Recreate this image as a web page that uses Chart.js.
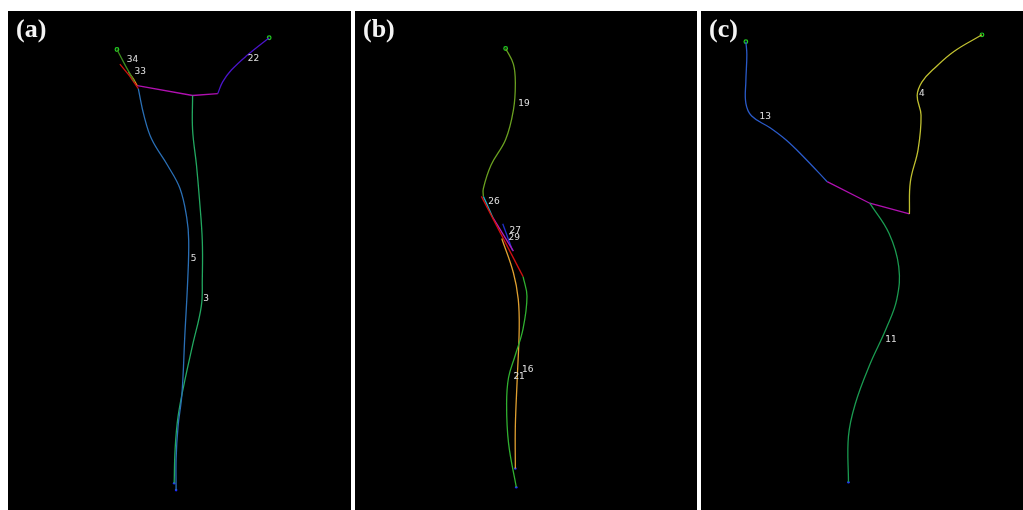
<!DOCTYPE html>
<html>
<head>
<meta charset="utf-8">
<script src="https://cdn.jsdelivr.net/npm/chart.js@4/dist/chart.umd.min.js"></script>
<style>
  body { margin: 0; background: #fff; width: 1023px; height: 510px; position: relative; overflow: hidden; }
  .panel { position: absolute; top: 11px; height: 499px; background: #000; }
  .tag { position: absolute; left: 8px; top: 3px; color: #f4f4f4; font: bold 26px "Liberation Serif", "DejaVu Serif", serif; }
</style>
</head>
<body>
<div class="panel" id="pa" style="left:8px;width:343px"><canvas id="ca"></canvas><div class="tag">(a)</div></div>
<div class="panel" id="pb" style="left:355px;width:342px"><canvas id="cb"></canvas><div class="tag">(b)</div></div>
<div class="panel" id="pc" style="left:701px;width:322px"><canvas id="cc"></canvas><div class="tag">(c)</div></div>
<script>
// traced roots, image coordinates [x, y]
// panel (a)
var a34 = [[115,45],[124,62],[133,78]];
var a33 = [[127,68],[132,75],[136,82]];
var aRed = [[118,60],[128,72],[137,85]];
var aJoin = [[136,82],[193,92],[219,90]];
var a22 = [[219,90],[224,78],[233,66],[248,52],[272,33]];
var a5 = [[137,85],[143,113],[151,137],[167,163],[180,187],[187,217],[189,240],[188,280],[185,337],[182,397],[178,430],[176,463],[176,495]];
var a3 = [[193,92],[193,127],[197,163],[200,197],[203,240],[203,280],[202,307],[193,347],[185,383],[178,420],[175,453],[174,488]];
// panel (b)
var b19 = [[505,44],[513,60],[515,80],[513,107],[505,137],[490,163],[482,187],[482,195]];
var b26 = [[480,195],[523,277]];
var bCyan = [[482,195],[492,217]];
var b29 = [[492,217],[513,251]];
var b27 = [[502,223],[512,250]];
var b16 = [[501,238],[513,273],[518,300],[519,330],[517,380],[515,430],[515,473]];
var b21 = [[523,277],[527,297],[523,330],[515,357],[508,380],[506,407],[508,447],[516,492]];
// panel (c)
var c13 = [[742,37],[743,50],[742,77],[742,100],[748,113],[767,125],[783,137],[800,153],[826,180]];
var cJoin = [[826,180],[870,202],[911,213]];
var c4 = [[911,213],[912,180],[920,147],[923,112],[919,92],[924,78],[936,65],[957,47],[986,30]];
var c11 = [[870,202],[890,233],[900,267],[898,300],[887,330],[870,367],[855,407],[848,440],[848,487]];

var tipsA = [[115,45],[272,33]], endsA = [[176,495],[174,488]];
var tipsB = [[505,44]], endsB = [[515,473],[516,492]];
var tipsC = [[742,37],[986,30]], endsC = [[848,487]];

var labelsA = [['34',125,55],['33',133,68],['22',250,54],['5',191,259],['3',204,299]];
var labelsB = [['19',518,100],['26',487,200],['27',509,230],['29',508,237],['16',522,372],['21',513,379]];
var labelsC = [['13',756,114],['4',921,90],['11',886,341]];

function pts(arr) {
  return arr.map(function (p) { return { x: p[0], y: p[1] }; });
}

function line(arr, color, curved) {
  return {
    data: pts(arr), showLine: true, borderColor: color, borderWidth: 1.3,
    pointRadius: 0, tension: curved ? 0.4 : 0, fill: false
  };
}

var textPlugin = {
  id: 'rootLabels',
  afterDatasetsDraw: function (chart) {
    var ctx = chart.ctx, xs = chart.scales.x, ys = chart.scales.y;
    ctx.save();
    ctx.fillStyle = '#e0e0e0';
    ctx.font = '9px "DejaVu Sans", sans-serif';
    ctx.textBaseline = 'middle';
    chart.options.plugins.rootLabels.items.forEach(function (l) {
      ctx.fillText(l[0], xs.getPixelForValue(l[1]), ys.getPixelForValue(l[2]));
    });
    ctx.restore();
  }
};

function makeChart(id, xmin, xmax, sets, tips, ends, labels) {
  sets.push({ data: pts(tips), showLine: false, pointRadius: 1.8, pointBorderColor: '#22cc22', pointBackgroundColor: '#000', pointBorderWidth: 1.2 });
  sets.push({ data: pts(ends), showLine: false, pointRadius: 1.3, pointBorderColor: '#2030ff', pointBackgroundColor: '#2030ff', pointBorderWidth: 0 });
  new Chart(document.getElementById(id), {
    type: 'scatter',
    data: { datasets: sets },
    options: {
      responsive: true, maintainAspectRatio: false, animation: false,
      layout: { padding: 0 },
      scales: {
        x: { type: 'linear', min: xmin, max: xmax, display: false },
        y: { type: 'linear', min: 11, max: 510, reverse: true, display: false }
      },
      plugins: { legend: { display: false }, tooltip: { enabled: false }, rootLabels: { items: labels } }
    },
    plugins: [textPlugin]
  });
}

makeChart('ca', 8, 351, [
  line(a5, '#2a6fb5', true),
  line(a3, '#22a860', true),
  line(a34, '#3c8a1e', false),
  line(aRed, '#d01010', false),
  line(a33, '#e08a18', false),
  line(aJoin, '#b010b0', false),
  line(a22, '#4a14c8', true)
], tipsA, endsA, labelsA);

makeChart('cb', 355, 697, [
  line(b19, '#6aa020', true),
  line(b21, '#30b030', true),
  line(b16, '#e0a030', true),
  line(b26, '#d01010', false),
  line(bCyan, '#20b0c0', false),
  line(b29, '#b020c0', false),
  line(b27, '#2030d0', false)
], tipsB, endsB, labelsB);

makeChart('cc', 701, 1023, [
  line(c13, '#2a5ac8', true),
  line(c4, '#c0c030', true),
  line(c11, '#1a9a50', true),
  line(cJoin, '#b010b0', false)
], tipsC, endsC, labelsC);
</script>
</body>
</html>
